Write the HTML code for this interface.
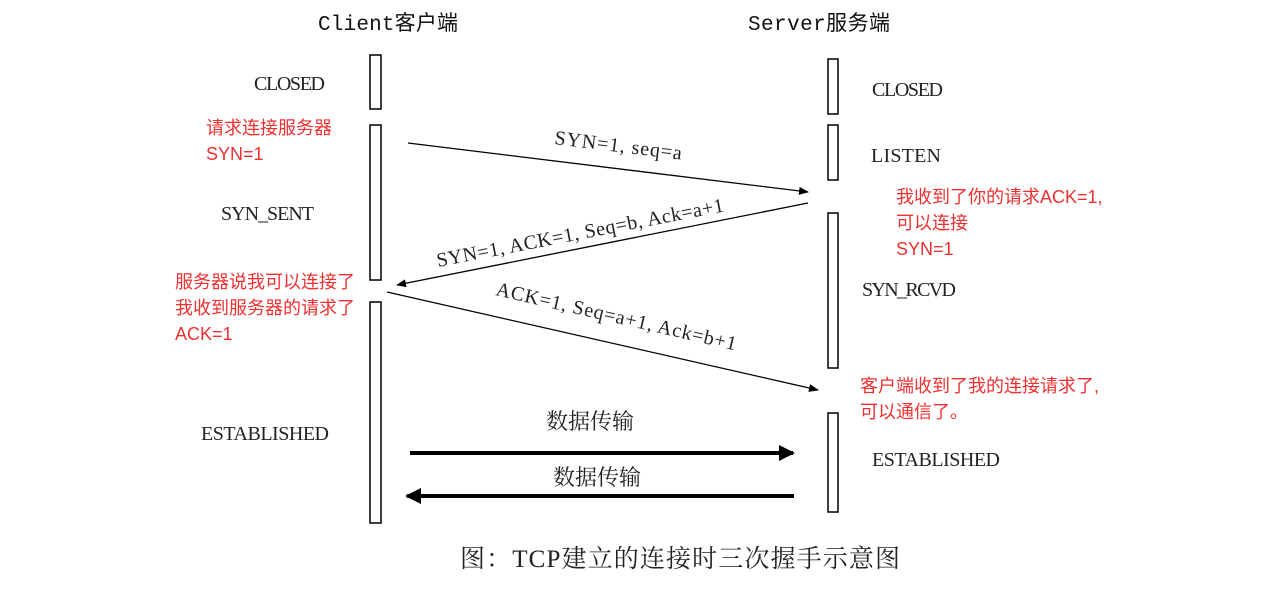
<!DOCTYPE html>
<html><head><meta charset="utf-8"><style>body{margin:0;background:#fff}</style></head><body>
<svg width="1285" height="604" xmlns="http://www.w3.org/2000/svg" font-family="Liberation Serif, Noto Serif CJK SC, serif">
<defs><marker id="a" markerWidth="10" markerHeight="8" refX="9" refY="4" orient="auto" markerUnits="userSpaceOnUse"><path d="M0,0L10,4L0,8z" fill="#000"/></marker>
<marker id="b" markerWidth="16" markerHeight="16" refX="14" refY="8" orient="auto" markerUnits="userSpaceOnUse"><path d="M0,0L16,8L0,16z" fill="#000"/></marker></defs>
<g fill="#fff" stroke="#000" stroke-width="1.5">
<rect x="370" y="55" width="11" height="54"/><rect x="370" y="125" width="11" height="155"/><rect x="370" y="302" width="11" height="221"/>
<rect x="828" y="59" width="10" height="55"/><rect x="828" y="125" width="10" height="55"/><rect x="828" y="213" width="10" height="155"/><rect x="828" y="413" width="10" height="99"/>
</g>
<g stroke="#000" stroke-width="1.3">
<line x1="408" y1="143" x2="808" y2="192" marker-end="url(#a)"/>
<line x1="808" y1="203" x2="397" y2="285" marker-end="url(#a)"/>
<line x1="387" y1="292" x2="818" y2="390" marker-end="url(#a)"/>
</g>
<g stroke="#000" stroke-width="4">
<line x1="410" y1="453" x2="793" y2="453" marker-end="url(#b)"/>
<line x1="794" y1="496" x2="407" y2="496" marker-end="url(#b)"/>
</g>
<g font-family="Liberation Mono, Noto Sans CJK SC, monospace" font-size="21" fill="#111">
<text x="318" y="30" textLength="140">Client客户端</text><text x="748" y="30" textLength="142">Server服务端</text></g>
<g font-size="20" fill="#222">
<text x="254" y="90" textLength="71">CLOSED</text>
<text x="221" y="220" textLength="93">SYN_SENT</text>
<text x="201" y="440" textLength="128">ESTABLISHED</text>
<text x="872" y="96" textLength="71">CLOSED</text>
<text x="871" y="162" textLength="70">LISTEN</text>
<text x="862" y="296" textLength="94">SYN_RCVD</text>
<text x="872" y="466" textLength="128">ESTABLISHED</text>
<text x="546" y="429" font-size="22">数据传输</text>
<text x="553" y="485" font-size="22">数据传输</text>
<text x="460" y="567" font-size="25" textLength="440">图：TCP建立的连接时三次握手示意图</text>
<text transform="translate(554,144) rotate(7)" font-size="20" textLength="128">SYN=1, seq=a</text>
<text transform="translate(438,267) rotate(-11)" font-size="20" textLength="292">SYN=1, ACK=1, Seq=b, Ack=a+1</text>
<text transform="translate(495,295) rotate(13)" font-size="20" textLength="246">ACK=1, Seq=a+1, Ack=b+1</text>
</g>
<g font-family="Liberation Sans, Noto Sans CJK SC, sans-serif" font-size="18" fill="#f03030">
<text x="206" y="134">请求连接服务器</text><text x="206" y="160">SYN=1</text>
<text x="175" y="288">服务器说我可以连接了</text><text x="175" y="314">我收到服务器的请求了</text><text x="175" y="340">ACK=1</text>
<text x="896" y="203">我收到了你的请求ACK=1,</text><text x="896" y="229">可以连接</text><text x="896" y="255">SYN=1</text>
<text x="860" y="392">客户端收到了我的连接请求了,</text><text x="860" y="418">可以通信了。</text>
</g>
</svg>
</body></html>
